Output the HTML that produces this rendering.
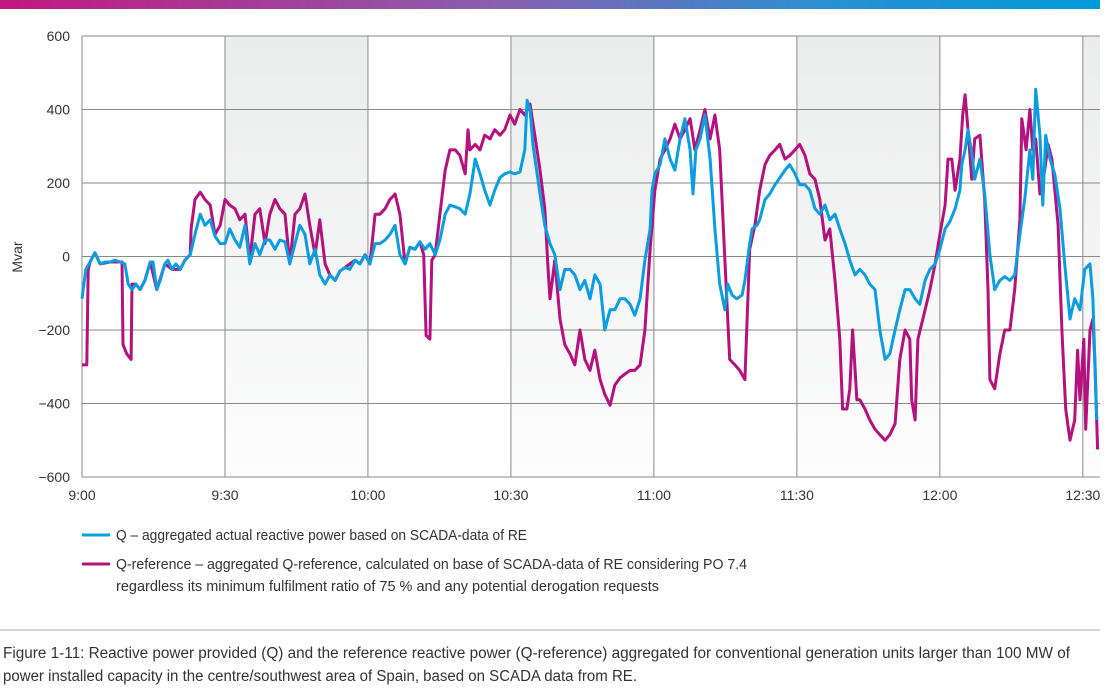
<!DOCTYPE html>
<html><head><meta charset="utf-8"><style>
html,body{margin:0;padding:0;background:#fff;width:1119px;height:695px;overflow:hidden}
text{font-family:"Liberation Sans Narrow","Liberation Sans",sans-serif;fill:#333}
</style></head><body>
<svg id="chart" width="1119" height="695" viewBox="0 0 1119 695" xmlns="http://www.w3.org/2000/svg">
<defs>
<linearGradient id="topg" x1="0" x2="1" y1="0" y2="0"><stop offset="0" stop-color="#c2187f"/><stop offset="0.45" stop-color="#8a5fae"/><stop offset="0.75" stop-color="#2a90d2"/><stop offset="1" stop-color="#009ad8"/></linearGradient>
<linearGradient id="bandg" x1="0" x2="0" y1="0" y2="1"><stop offset="0" stop-color="#ebecec"/><stop offset="1" stop-color="#fdfdfd"/></linearGradient>
</defs>
<rect x="0" y="0" width="1100" height="9" fill="url(#topg)"/>
<g id="bands"></g><g id="grid"></g><g id="lines"></g><g id="axes"></g>
<text transform="translate(22,257) rotate(-90)" text-anchor="middle" font-size="14">Mvar</text>
<g>
<line x1="82" y1="535" x2="110" y2="535" stroke="#0a9ee0" stroke-width="3"/>
<text x="116" y="540" font-size="14.5" textLength="411" lengthAdjust="spacingAndGlyphs">Q – aggregated actual reactive power based on SCADA-data of RE</text>
<line x1="82" y1="564" x2="110" y2="564" stroke="#b5117e" stroke-width="3"/>
<text x="116" y="569" font-size="14.5" textLength="631" lengthAdjust="spacingAndGlyphs">Q-reference – aggregated Q-reference, calculated on base of SCADA-data of RE considering PO 7.4</text>
<text x="116" y="591" font-size="14.5" textLength="543" lengthAdjust="spacingAndGlyphs">regardless its minimum fulfilment ratio of 75 % and any potential derogation requests</text>
</g>
<line x1="0" y1="630" x2="1100" y2="630" stroke="#aaa" stroke-width="1"/>
<text x="3" y="658" font-size="15.5" textLength="1067" lengthAdjust="spacingAndGlyphs">Figure 1-11: Reactive power provided (Q) and the reference reactive power (Q-reference) aggregated for conventional generation units larger than 100 MW of</text>
<text x="3" y="681" font-size="15.5" textLength="634" lengthAdjust="spacingAndGlyphs">power installed capacity in the centre/southwest area of Spain, based on SCADA data from RE.</text>
</svg>
<script>
const yTicks=[600,400,200,0,-200,-400,-600];
const yTickLabels=["600","400","200","0","−200","−400","−600"];
const xTicks=[0,30,60,90,120,150,180,210];
const xTickLabels=["9:00","9:30","10:00","10:30","11:00","11:30","12:00","12:30"];
const shadedStarts=[30,90,150,210];
const qTime=[0,0.8,1.7,2.7,3.8,4.8,5.9,6.9,8.0,9.0,9.7,10.5,11.3,12.2,13.2,14.3,14.9,15.7,16.4,17.4,18.0,18.9,19.7,20.6,21.6,22.7,23.7,24.8,25.8,26.9,27.9,29.0,30.0,31.0,32.1,33.1,34.2,35.2,36.3,37.3,38.4,39.4,40.5,41.5,42.6,43.6,44.7,45.7,46.8,47.8,48.9,49.9,51.0,52.0,53.1,54.1,55.2,56.2,57.3,58.3,59.4,60.4,61.5,62.5,63.6,64.6,65.7,66.7,67.8,68.8,69.9,70.9,72.0,73.0,74.1,75.1,76.2,77.2,78.3,79.3,80.4,81.4,82.5,83.5,84.5,85.6,86.6,87.7,88.7,89.8,90.8,91.9,92.9,93.4,94.0,94.6,96.1,97.1,98.2,99.2,100.3,101.3,102.4,103.4,104.5,105.5,106.6,107.6,108.7,109.7,110.8,111.8,112.9,113.9,115.0,116.0,117.1,118.1,119.2,119.6,120.2,121.3,122.3,123.4,124.4,125.5,126.5,127.6,128.2,128.8,129.7,130.7,131.8,132.8,133.8,134.9,135.5,136.4,137.4,138.5,139.1,140.1,140.6,141.6,142.2,143.3,144.3,145.4,147.5,148.5,149.6,150.6,151.7,152.7,153.8,154.8,155.9,156.9,158.0,159.0,160.1,161.1,162.2,163.2,164.3,165.3,166.4,167.4,168.5,169.5,170.6,171.6,172.7,173.7,174.8,175.8,176.9,177.9,179.0,180.0,181.1,182.1,183.2,184.2,184.6,185.3,185.9,186.7,187.3,188.4,189.4,190.5,191.5,192.6,193.6,194.7,195.7,196.8,197.8,198.9,199.5,200.1,201.0,201.6,202.2,203.1,204.1,205.2,206.2,207.3,208.3,209.4,210.4,211.5,212.1,212.9];
const qValues=[-115,-35,-15,10,-20,-15,-15,-10,-15,-20,-75,-90,-75,-90,-65,-15,-15,-90,-65,-20,-10,-35,-20,-35,-10,5,60,115,85,100,55,35,35,75,45,25,85,-20,35,5,45,45,20,45,40,-20,35,85,60,-20,20,-50,-75,-50,-65,-40,-30,-35,-10,-20,5,-20,35,35,45,60,85,5,-20,25,20,40,20,35,5,45,115,140,135,130,115,170,265,225,180,140,180,215,225,230,225,230,290,425,400,305,170,85,35,5,-90,-35,-35,-50,-90,-65,-115,-50,-75,-200,-145,-145,-115,-115,-130,-160,-115,-10,75,180,225,250,320,265,235,320,375,290,170,290,320,385,265,75,-75,-145,-75,-105,-115,-105,-65,35,75,85,100,155,170,195,235,250,225,195,195,180,130,115,140,100,115,75,35,-10,-50,-35,-50,-75,-90,-200,-280,-265,-200,-145,-90,-90,-115,-130,-65,-35,-20,20,75,95,130,180,250,290,345,280,210,265,170,5,-90,-65,-55,-65,-50,60,155,290,210,455,330,140,330,265,225,130,-20,-170,-115,-145,-35,-20,-115,-445];
const refTime=[0,1.0,1.3,1.7,2.7,3.8,5.9,8.0,8.4,8.6,9.4,10.3,10.5,11.3,12.2,13.2,14.3,15.7,17.4,18.9,20.6,21.6,22.7,22.9,23.7,24.8,25.8,26.9,27.9,29.0,30.0,31.0,32.1,33.1,34.2,35.2,36.3,37.3,38.4,39.4,40.5,41.5,42.6,43.6,44.7,45.7,46.8,47.8,48.9,49.9,51.0,52.0,53.1,54.1,55.2,56.2,57.3,58.3,59.4,60.4,61.5,62.5,63.6,64.6,65.7,66.7,67.8,68.8,69.9,70.9,71.7,72.2,73.0,73.4,74.1,75.1,76.2,77.2,78.3,79.3,80.4,81.0,81.4,82.5,83.5,84.5,85.6,86.6,87.7,88.7,89.8,90.8,91.9,92.9,94.0,95.0,96.1,97.1,97.8,98.2,99.2,100.3,101.3,102.4,103.4,104.5,105.5,106.6,107.6,108.7,109.7,110.8,111.8,112.9,113.9,115.0,116.0,117.1,118.1,119.2,120.2,121.3,122.3,123.4,124.4,125.5,126.5,127.6,128.6,129.7,130.7,131.8,132.8,133.8,134.9,135.9,137.0,138.0,139.1,140.1,141.2,142.2,143.3,144.3,145.4,146.4,147.5,148.5,149.6,150.6,151.7,152.7,153.8,154.8,155.9,156.9,158.0,159.0,159.6,160.5,161.1,161.7,162.6,163.2,164.3,165.3,166.4,167.4,168.5,169.5,170.6,171.6,172.7,173.7,174.1,174.8,175.4,176.9,177.9,179.0,180.0,181.1,181.7,182.5,183.2,184.2,184.8,185.3,185.9,186.7,187.3,188.4,189.4,190.1,190.5,191.5,192.6,193.6,194.7,195.7,196.8,197.2,198.1,198.9,199.5,200.1,201.0,202.0,202.7,203.5,204.8,205.6,206.4,207.3,208.3,208.9,209.4,210.2,210.6,211.5,212.1,212.5,213.1];
const refValues=[-295,-295,-35,-15,10,-20,-15,-15,-15,-240,-265,-280,-75,-75,-90,-65,-15,-90,-20,-35,-35,-10,5,75,155,175,155,140,60,85,155,140,130,100,115,-10,115,130,35,115,155,130,115,-20,115,130,170,85,5,100,-20,-50,-65,-40,-30,-20,-10,-20,5,-20,115,115,130,155,170,115,-20,25,20,40,5,-215,-225,-10,5,115,235,290,290,275,225,345,290,305,290,330,320,345,330,345,385,360,400,385,415,330,235,130,-35,-115,-10,-170,-240,-265,-295,-200,-280,-310,-255,-335,-375,-405,-350,-330,-320,-310,-310,-295,-200,20,180,265,290,320,360,320,345,375,290,345,400,320,385,290,-10,-280,-295,-310,-335,20,85,180,250,275,290,305,265,275,290,305,275,225,210,155,45,75,-65,-225,-415,-415,-360,-200,-390,-390,-415,-445,-470,-485,-500,-485,-455,-280,-200,-225,-390,-445,-225,-145,-90,-20,60,140,265,265,180,265,385,440,345,210,320,330,155,-90,-335,-360,-265,-200,-200,-90,100,375,290,400,290,320,170,235,305,265,85,-200,-415,-500,-445,-255,-390,-225,-470,-200,-170,-280,-525];

const X0=82,X1=1100,Y0=36,Y1=477,T1=213.6;
const NS="http://www.w3.org/2000/svg";
function xs(t){return X0+t*(X1-X0)/T1;}
function ys(v){return Y0+(600-v)*(Y1-Y0)/1200;}
function mk(tag,attrs,parent){const e=document.createElementNS(NS,tag);for(const k in attrs)e.setAttribute(k,attrs[k]);parent.appendChild(e);return e;}
const bands=document.getElementById('bands'),grid=document.getElementById('grid'),lines=document.getElementById('lines'),axes=document.getElementById('axes');
shadedStarts.forEach(function(s){
  const r=mk('rect',{x:xs(s),y:Y0,width:Math.min(xs(s+30),X1)-xs(s),height:Y1-Y0,fill:'url(#bandg)'},bands);
  
  
});
yTicks.forEach(function(v,i){
  const l=mk('line',{x1:X0,x2:X1,y1:ys(v),y2:ys(v),stroke:'#8a8a8a','stroke-width':1},grid);
  
  
  const t=mk('text',{x:70,y:ys(v)+5,'text-anchor':'end','font-size':14},axes);
  t.textContent=yTickLabels[i];
  
  
});
xTicks.forEach(function(m,i){
  const l=mk('line',{x1:xs(m),x2:xs(m),y1:Y0,y2:Y1,stroke:'#8a8a8a','stroke-width':1},grid);
  
  
  const t=mk('text',{x:xs(m),y:500,'text-anchor':'middle','font-size':14},axes);
  t.textContent=xTickLabels[i];
  
  
});
function path(ts,vs){return ts.map(function(t,i){return (i?'L':'M')+xs(t).toFixed(1)+','+ys(vs[i]).toFixed(1);}).join('');}
const pr=mk('path',{d:path(refTime,refValues),fill:'none',stroke:'#b5117e','stroke-width':3,'stroke-linejoin':'round'},lines);


const pq=mk('path',{d:path(qTime,qValues),fill:'none',stroke:'#0a9ee0','stroke-width':3,'stroke-linejoin':'round'},lines);


</script>
</body></html>
